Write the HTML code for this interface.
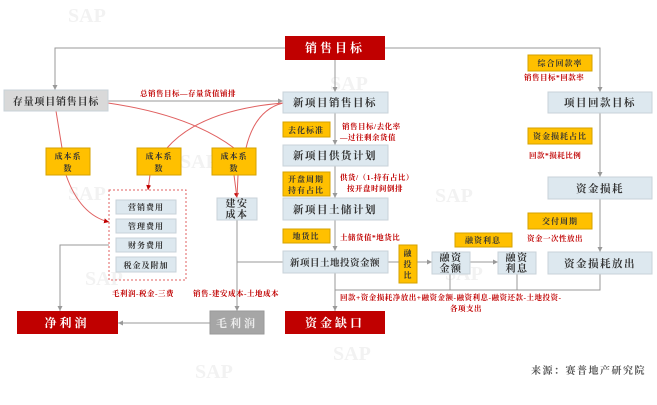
<!DOCTYPE html>
<html><head><meta charset="utf-8"><style>
html,body{margin:0;padding:0;background:#fff;}
svg{display:block;}
text{font-family:"Liberation Serif","Noto Serif CJK SC",serif;font-weight:bold;}
</style></head><body>
<svg width="657" height="405" viewBox="0 0 657 405" xmlns="http://www.w3.org/2000/svg">
<defs>
<marker id="ag" markerWidth="6" markerHeight="6" refX="5" refY="3" orient="auto"><path d="M0,0.5 L5,3 L0,5.5z" fill="#999"/></marker>
<marker id="ar" markerWidth="6" markerHeight="6" refX="5" refY="3" orient="auto"><path d="M0,0.5 L5,3 L0,5.5z" fill="#c00000"/></marker>
</defs>
<g fill="#f2f2f2" font-size="20" font-family="Liberation Sans,sans-serif">
<text x="68" y="22" font-weight="bold">SAP</text><text x="180" y="168" font-weight="bold">SAP</text>
<text x="68" y="200" font-weight="bold">SAP</text><text x="85" y="285" font-weight="bold">SAP</text>
<text x="330" y="90" font-weight="bold">SAP</text><text x="435" y="202" font-weight="bold">SAP</text>
<text x="195" y="378" font-weight="bold">SAP</text><text x="333" y="360" font-weight="bold">SAP</text>
<text x="445" y="280" font-weight="bold">SAP</text>
</g>
<g stroke="#999" stroke-width="1" fill="none">
<path d="M285,48 H55 V90" marker-end="url(#ag)"/>
<path d="M385,48 H600 V92" marker-end="url(#ag)"/>
<path d="M335,60 V92" marker-end="url(#ag)"/>
<path d="M108,101 H283" marker-end="url(#ag)"/>
<path d="M335,113 V145" marker-end="url(#ag)"/>
<path d="M335,166 V198" marker-end="url(#ag)"/>
<path d="M335,220 V251" marker-end="url(#ag)"/>
<path d="M335,273 V311" marker-end="url(#ag)"/>
<path d="M335,290 H600 V274"/>
<path d="M450,274 V290"/><path d="M517,274 V290"/>
<path d="M388,262 H432" marker-end="url(#ag)"/>
<path d="M470,262 H498" marker-end="url(#ag)"/>
<path d="M600,113 V177" marker-end="url(#ag)"/>
<path d="M600,199 V252" marker-end="url(#ag)"/>
<path d="M237,220 V311" marker-end="url(#ag)"/>
<path d="M237,262 H283"/>
<path d="M109,245 H60 V311" marker-end="url(#ag)"/>
<path d="M210,323 H118" marker-end="url(#ag)"/>
</g>
<g stroke="#e06060" stroke-width="1" fill="none">
<path d="M56,111 L62,148"/>
<path d="M108,103 Q190,115 234,148"/>
<path d="M283,103 Q200,110 167,148"/>
<path d="M283,103 Q255,110 246,148"/>
<path d="M66,175 Q80,215 109,222" marker-end="url(#ar)"/>
<path d="M150,175 L148,190" marker-end="url(#ar)"/>
<path d="M234,175 L237,198" marker-end="url(#ar)"/>
<path d="M238,175 L237,198"/>
</g>
<rect x="109" y="190" width="77" height="90" fill="none" stroke="#e06060" stroke-dasharray="2,2"/>
<g stroke="#c8d2d8" stroke-width="1">
<rect x="283" y="92" width="105" height="21" fill="#dde8ef"/>
<rect x="283" y="145" width="105" height="21" fill="#dde8ef"/>
<rect x="283" y="198" width="105" height="22" fill="#dde8ef"/>
<rect x="283" y="251" width="105" height="22" fill="#dde8ef"/>
<rect x="432" y="252" width="38" height="22" fill="#dde8ef"/>
<rect x="498" y="252" width="38" height="22" fill="#dde8ef"/>
<rect x="548" y="92" width="104" height="21" fill="#dde8ef"/>
<rect x="548" y="177" width="104" height="22" fill="#dde8ef"/>
<rect x="548" y="252" width="104" height="22" fill="#dde8ef"/>
<rect x="217" y="198" width="40" height="22" fill="#dde8ef"/>
<rect x="116" y="200" width="60" height="14" fill="#dde8ef"/>
<rect x="116" y="219" width="60" height="14" fill="#dde8ef"/>
<rect x="116" y="238" width="60" height="14" fill="#dde8ef"/>
<rect x="116" y="257" width="60" height="15" fill="#dde8ef"/>
<rect x="4" y="90" width="104" height="21" fill="#d9d9d9"/>
</g>
<g fill="#ffc000" stroke="#d4a200" stroke-width="1">
<rect x="283" y="122" width="47" height="15"/>
<rect x="283" y="172" width="47" height="24"/>
<rect x="283" y="229" width="47" height="14"/>
<rect x="399" y="245" width="18" height="38"/>
<rect x="455" y="233" width="57" height="14"/>
<rect x="528" y="55" width="64" height="16"/>
<rect x="528" y="128" width="64" height="16"/>
<rect x="528" y="213" width="64" height="16"/>
<rect x="46" y="148" width="44" height="27"/>
<rect x="137" y="148" width="44" height="27"/>
<rect x="212" y="148" width="44" height="27"/>
</g>
<rect x="285" y="36" width="100" height="24" fill="#c00000"/>
<rect x="285" y="311" width="100" height="23" fill="#c00000"/>
<rect x="17" y="311" width="101" height="23" fill="#c00000"/>
<rect x="210" y="311" width="54" height="23" fill="#a6a6a6" stroke="#999"/>
<g font-size="10.5" text-anchor="middle" fill="#333" letter-spacing="1.5">
<text x="335" y="106">新项目销售目标</text>
<text x="335" y="159">新项目供货计划</text>
<text x="335" y="213">新项目土储计划</text>
<text x="335" y="266" font-size="9.5" letter-spacing="0.5">新项目土地投资金额</text>
<text x="600" y="106">项目回款目标</text>
<text x="600" y="192">资金损耗</text>
<text x="600" y="267">资金损耗放出</text>
<text x="56" y="105" font-size="10" letter-spacing="0.8">存量项目销售目标</text>
<text x="451" y="261" font-size="10">融资</text><text x="451" y="272" font-size="10">金额</text>
<text x="517" y="261" font-size="10">融资</text><text x="517" y="272" font-size="10">利息</text>
<text x="237" y="207" font-size="10">建安</text><text x="237" y="218" font-size="10">成本</text>
<g font-size="8" letter-spacing="1">
<text x="146" y="210">营销费用</text><text x="146" y="229">管理费用</text>
<text x="146" y="248">财务费用</text><text x="146" y="268">税金及附加</text>
</g>
</g>
<g font-size="8" text-anchor="middle" fill="#333" letter-spacing="1">
<text x="306" y="133">去化标准</text>
<text x="306" y="182">开盘周期</text><text x="306" y="193">持有占比</text>
<text x="306" y="239">地货比</text>
<text x="408" y="256">融</text><text x="408" y="267">投</text><text x="408" y="278">比</text>
<text x="483" y="243">融资利息</text>
<text x="560" y="66">综合回款率</text>
<text x="560" y="139">资金损耗占比</text>
<text x="560" y="224">交付周期</text>
<text x="68" y="159">成本系</text><text x="68" y="171">数</text>
<text x="159" y="159">成本系</text><text x="159" y="171">数</text>
<text x="234" y="159">成本系</text><text x="234" y="171">数</text>
</g>
<g font-size="12" text-anchor="middle" fill="#fff" letter-spacing="3">
<text x="335" y="52">销售目标</text>
<text x="335" y="327">资金缺口</text>
<text x="67" y="327">净利润</text>
<text x="237" y="327" fill="#eee" font-size="11">毛利润</text>
</g>
<g font-size="7.5" fill="#c00000" letter-spacing="0.5">
<text x="140" y="96">总销售目标—存量货值铺排</text>
<text x="342" y="129">销售目标/去化率</text>
<text x="340" y="140">—过往剩余货值</text>
<text x="340" y="180">供货/（1-持有占比）</text>
<text x="347" y="191">按开盘时间倒排</text>
<text x="340" y="240">土储货值*地货比</text>
<text x="524" y="80">销售目标*回款率</text>
<text x="529" y="158">回款*损耗比例</text>
<text x="527" y="241">资金一次性放出</text>
<text x="112" y="296">毛利润-税金-三费</text>
<text x="193" y="296">销售-建安成本-土地成本</text>
<text x="340" y="300">回款+资金损耗净放出+融资金额-融资利息-融资还款-土地投资-</text>
<text x="450" y="311">各项支出</text>
</g>
<text x="531" y="374" font-size="10" fill="#555" font-weight="normal" letter-spacing="1.5">来源：赛普地产研究院</text>
</svg>
</body></html>
